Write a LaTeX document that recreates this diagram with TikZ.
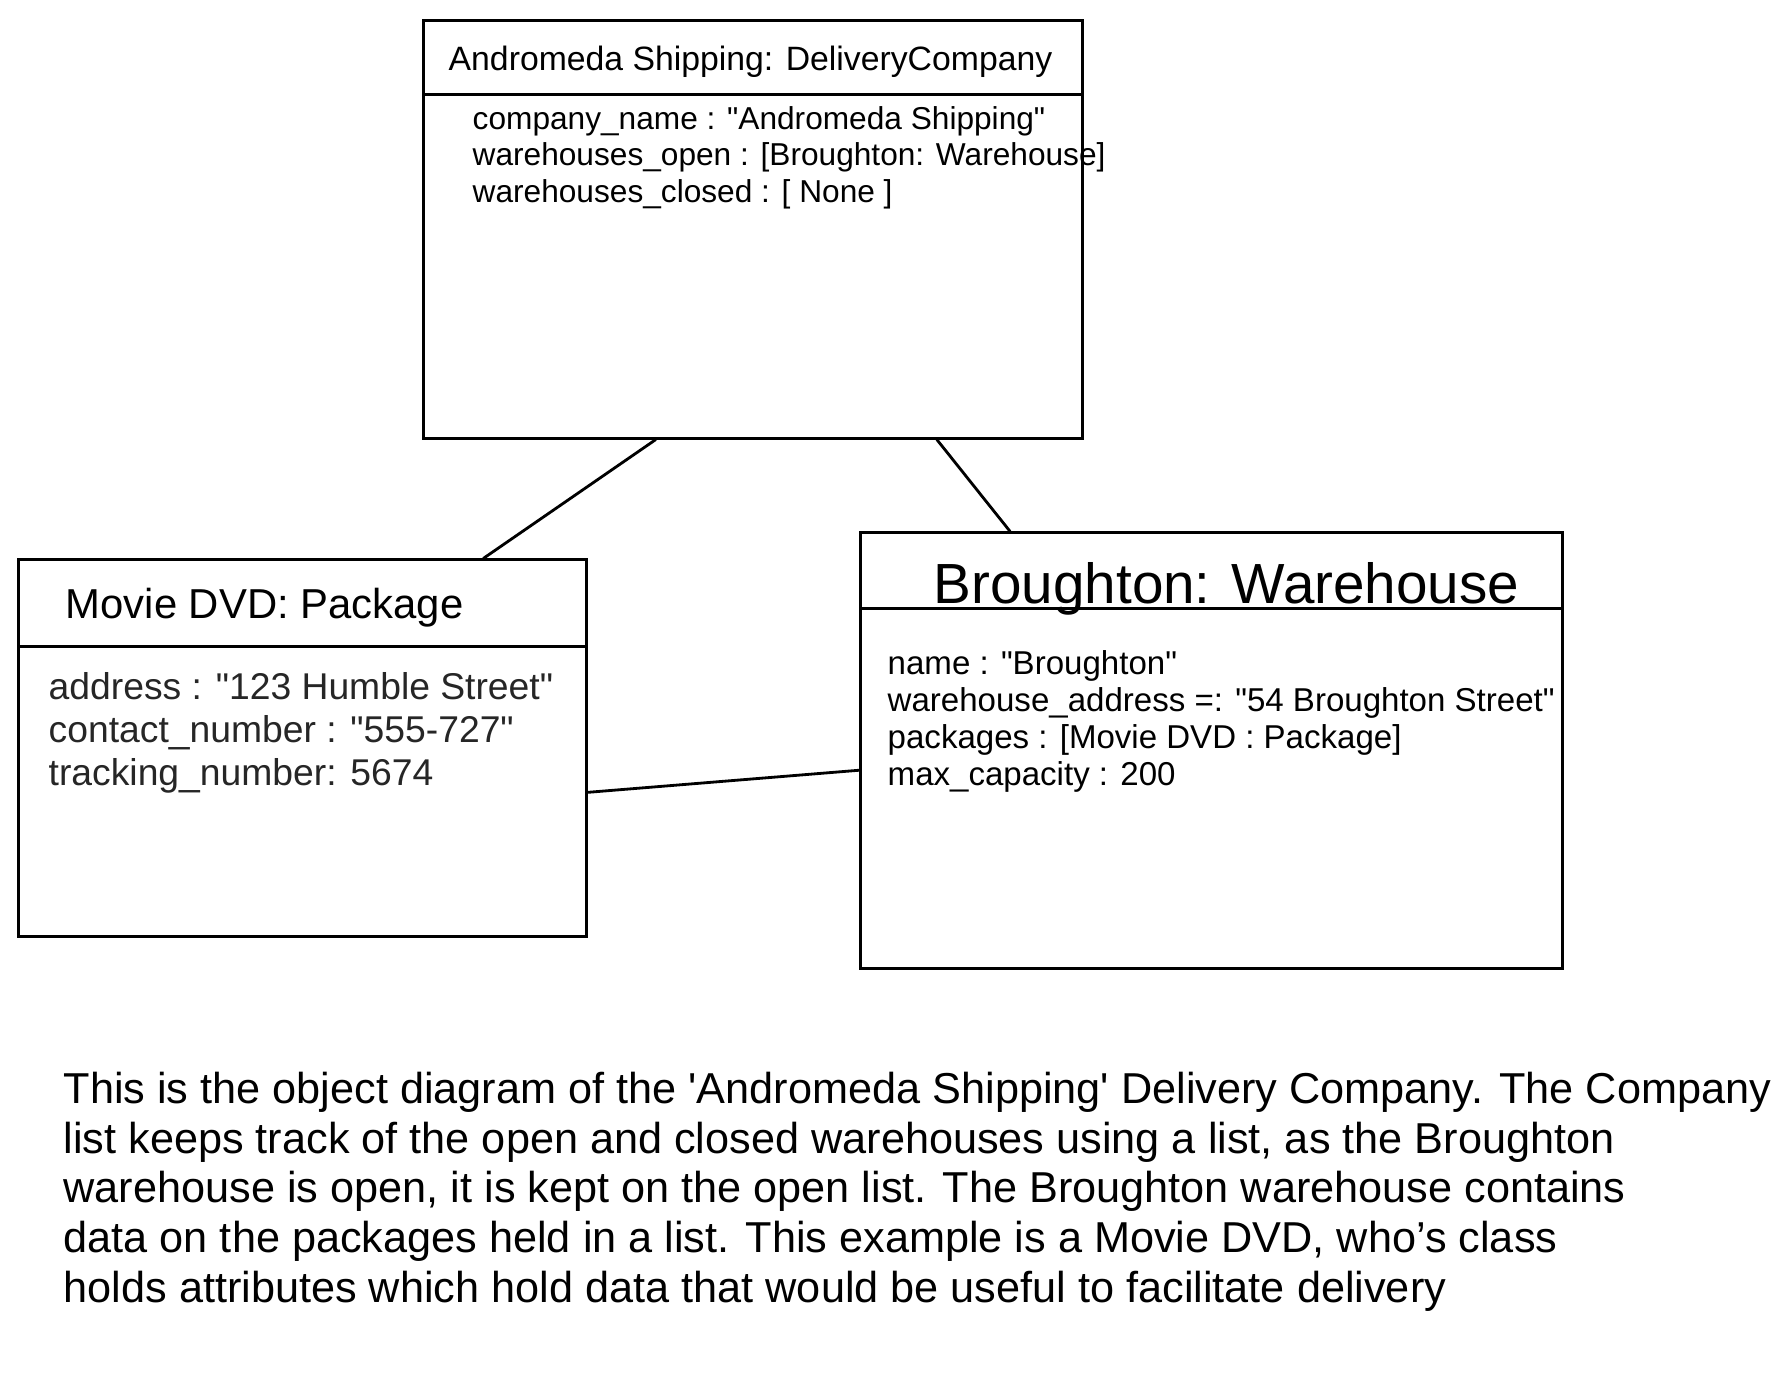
\documentclass[tikz,border=0pt]{standalone}
\usepackage{fontspec}
\setmainfont{Liberation Sans}
\usetikzlibrary{calc}
\newcommand{\q}{\textquotedbl}

\begin{document}
\begin{tikzpicture}[x=0.01cm,y=-0.01cm,
  objbox/.style={draw,thick,inner sep=0pt},
  objtitle/.style={anchor=west,inner sep=0pt},
  attrs/.style={anchor=north west,inner sep=0pt,align=left},
  link/.style={thick}]
\useasboundingbox (0,0) rectangle (1789,1382);

% delivery company
\node[objbox,minimum width=6.58cm,minimum height=4.17cm] (company) at (753,229.5) {};
\draw[thick] ($(company.north west)+(0,75)$) -- ($(company.north east)+(0,75)$);
\node[objtitle,font=\fontsize{9.6}{11}\selectfont] (companytitle) at (448,62) {Andromeda Shipping: DeliveryCompany};
\node[attrs,font=\fontsize{9}{10.3}\selectfont] (companyattrs) at (472,106)
  {company\_name : \q Andromeda Shipping\q\\
   warehouses\_open : [Broughton: Warehouse]\\
   warehouses\_closed : [ None ]};

% package
\node[objbox,minimum width=5.67cm,minimum height=3.76cm] (package) at (302.5,748) {};
\draw[thick] ($(package.north west)+(0,88)$) -- ($(package.north east)+(0,88)$);
\node[objtitle,font=\fontsize{11.9}{13}\selectfont] (packagetitle) at (65,608) {Movie DVD: Package};
\node[attrs,font=\fontsize{10.6}{12.2}\selectfont,text=black!85] (packageattrs) at (48,672)
  {address : \q 123 Humble Street\q\\
   contact\_number : \q 555-727\q\\
   tracking\_number: 5674};

% warehouse
\node[objbox,minimum width=7.01cm,minimum height=4.35cm] (warehouse) at (1211.5,750.5) {};
\draw[thick] ($(warehouse.north west)+(0,77)$) -- ($(warehouse.north east)+(0,77)$);
\node[objtitle,font=\fontsize{16.1}{18}\selectfont] (warehousetitle) at (933,589) {Broughton: Warehouse};
\node[attrs,font=\fontsize{9.4}{10.5}\selectfont] (warehouseattrs) at (887,650)
  {name : \q Broughton\q\\
   warehouse\_address =: \q 54 Broughton Street\q\\
   packages : [Movie DVD : Package]\\
   max\_capacity : 200};

% links
\draw[link] ($(company.south west)!0.353!(company.south east)$) -- ($(package.north west)!0.817!(package.north east)$);
\draw[link] ($(company.south west)!0.778!(company.south east)$) -- ($(warehouse.north west)!0.214!(warehouse.north east)$);
\draw[link] ($(package.north east)!0.617!(package.south east)$) -- ($(warehouse.north west)!0.545!(warehouse.south west)$);

% caption
\node[attrs,font=\fontsize{12.3}{14.2}\selectfont] (caption) at (63,1071)
  {This is the object diagram of the \textquotesingle Andromeda Shipping\textquotesingle{} Delivery Company. The Company\\
   list keeps track of the open and closed warehouses using a list, as the Broughton\\
   warehouse is open, it is kept on the open list. The Broughton warehouse contains\\
   data on the packages held in a list. This example is a Movie DVD, who's class\\
   holds attributes which hold data that would be useful to facilitate delivery};

\end{tikzpicture}
\end{document}
